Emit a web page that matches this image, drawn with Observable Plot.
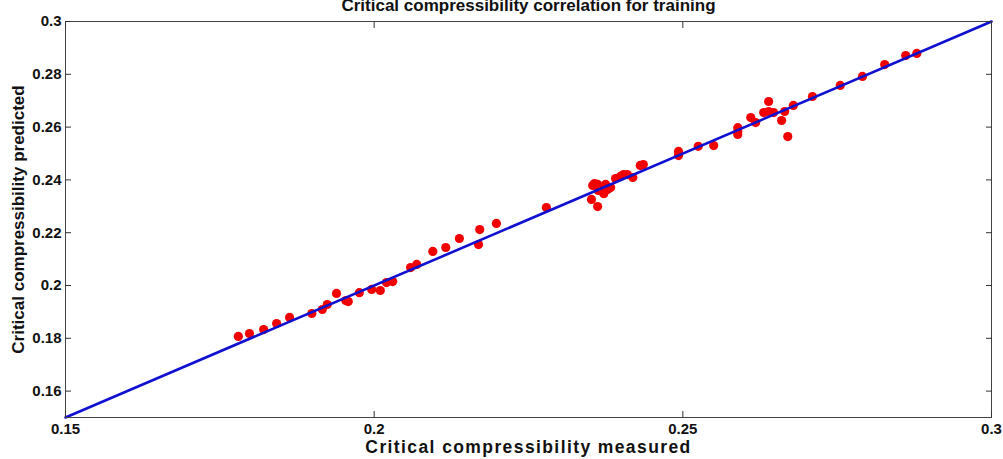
<!DOCTYPE html>
<html>
<head>
<meta charset="utf-8">
<script src="https://cdn.jsdelivr.net/npm/d3@7"></script>
<script src="https://cdn.jsdelivr.net/npm/@observablehq/plot@0.6"></script>
<style>
  html, body { margin: 0; padding: 0; background: #fff; overflow: hidden; }
</style>
</head>
<body>
<div id="chart"></div>
<script>
const titleText = "Critical compressibility correlation for training";
const xLabel = "Critical compressibility measured";
const yLabel = "Critical compressibility predicted";

const measured = [
  0.1780, 0.1798, 0.1821, 0.1842, 0.1863, 0.1899, 0.1916, 0.1924, 0.1939, 0.1954,
  0.1958, 0.1976, 0.1996, 0.2010, 0.2020, 0.2030, 0.2059, 0.2069, 0.2095, 0.2116,
  0.2138, 0.2171, 0.2169, 0.2198, 0.2279, 0.2352, 0.2362, 0.2354, 0.2362, 0.2370,
  0.2378, 0.2372, 0.2363, 0.2383, 0.2391, 0.2399, 0.2404, 0.2410, 0.2419, 0.2431,
  0.2436, 0.2357, 0.2375, 0.2493, 0.2493, 0.2525, 0.2550, 0.2589, 0.2589, 0.2589,
  0.2610, 0.2618, 0.2631, 0.2639, 0.2639, 0.2647, 0.2660, 0.2665, 0.2670, 0.2679,
  0.2710, 0.2755, 0.2791, 0.2827, 0.2861, 0.2879
];
const predicted = [
  0.1807, 0.1818, 0.1833, 0.1856, 0.1879, 0.1894, 0.1909, 0.1928, 0.1970, 0.1943,
  0.1939, 0.1973, 0.1985, 0.1981, 0.2011, 0.2015, 0.2068, 0.2080, 0.2129, 0.2144,
  0.2178, 0.2212, 0.2155, 0.2235, 0.2295, 0.2326, 0.2299, 0.2379, 0.2383, 0.2371,
  0.2364, 0.2348, 0.2360, 0.2371, 0.2405, 0.2413, 0.2420, 0.2420, 0.2409, 0.2455,
  0.2458, 0.2386, 0.2383, 0.2508, 0.2492, 0.2527, 0.2530, 0.2598, 0.2583, 0.2572,
  0.2636, 0.2617, 0.2655, 0.2697, 0.2659, 0.2655, 0.2625, 0.2659, 0.2564, 0.2682,
  0.2716, 0.2758, 0.2792, 0.2837, 0.2871, 0.2879
];
const idealLine = [0.15, 0.3];
const xTicks = [0.15, 0.2, 0.25, 0.3];
const yTicks = [0.16, 0.18, 0.2, 0.22, 0.24, 0.26, 0.28, 0.3];
const xTickLabels = ["0.15", "0.2", "0.25", "0.3"];
const yTickLabels = ["0.16", "0.18", "0.2", "0.22", "0.24", "0.26", "0.28", "0.3"];

const points = measured.map((m, i) => ({measured: m, predicted: predicted[i]}));
const lineData = idealLine.map(v => ({x: v, y: v}));

const chart = Plot.plot({
  width: 1003,
  height: 459,
  marginLeft: 65,
  marginRight: 12,
  marginTop: 21,
  marginBottom: 42,
  style: {fontFamily: "'Liberation Sans', Arial, sans-serif", background: "#fff", overflow: "visible"},
  x: {domain: [0.15, 0.3], label: null},
  y: {domain: [0.15, 0.3], label: null},
  marks: [
    Plot.dot(points, {x: "measured", y: "predicted", r: 4.6, fill: "#f00000", stroke: "none"}),
    Plot.line(lineData, {x: "x", y: "y", stroke: "#1010d0", strokeWidth: 2.6}),
    Plot.frame({stroke: "#444", strokeWidth: 1}),
    // inward ticks on all sides
    Plot.axisX(xTicks, {anchor: "bottom", tickSize: -6, tickFormat: () => "", stroke: "#333"}),
    Plot.axisX(xTicks, {anchor: "top", tickSize: -6, tickFormat: () => "", stroke: "#333"}),
    Plot.axisY(yTicks, {anchor: "left", tickSize: -6, tickFormat: () => "", stroke: "#333"}),
    Plot.axisY(yTicks, {anchor: "right", tickSize: -6, tickFormat: () => "", stroke: "#333"}),
    // tick labels
    Plot.axisX(xTicks, {anchor: "bottom", tickSize: 0, tickPadding: 6, tickFormat: (d, i) => xTickLabels[i],
      fontSize: 15, fontWeight: "bold", fill: "#111", label: null}),
    Plot.axisY(yTicks, {anchor: "left", tickSize: 0, tickPadding: 4, tickFormat: (d, i) => yTickLabels[i],
      fontSize: 15, fontWeight: "bold", fill: "#111", label: null}),
    // axis labels and title
    Plot.text([xLabel], {frameAnchor: "bottom", dy: 30, lineAnchor: "middle", textAnchor: "middle", fontSize: 17.5, fontWeight: "bold", fill: "#111", text: d => d}),
    Plot.text([yLabel], {frameAnchor: "left", dx: -47, rotate: -90, lineAnchor: "middle", textAnchor: "middle", fontSize: 17, fontWeight: "bold", fill: "#111", text: d => d}),
    Plot.text([titleText], {frameAnchor: "top", dy: -11, lineAnchor: "bottom", textAnchor: "middle", fontSize: 17, fontWeight: "bold", fill: "#111", text: d => d})
  ]
});
d3.select(chart).selectAll("text")
  .filter(function() { return this.textContent === xLabel; })
  .style("letter-spacing", "1.4px");
document.getElementById("chart").appendChild(chart);
</script>
</body>
</html>
